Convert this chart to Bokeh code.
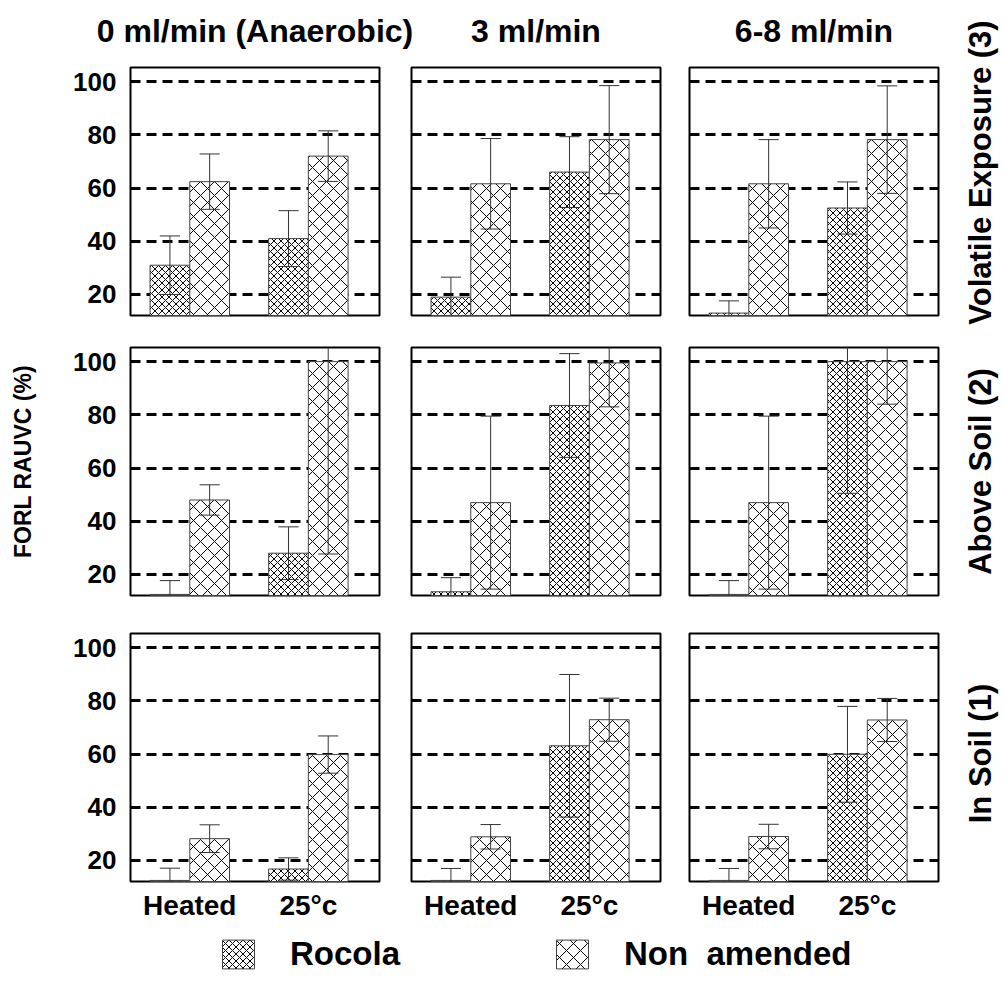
import numpy as np
from bokeh.plotting import figure
from bokeh.models import Range1d, FixedTicker, Legend, LegendItem
from bokeh.layouts import row, column
from bokeh.embed import file_html
from bokeh.resources import INLINE
from bokeh.core.properties import value

FONT = "Liberation Sans"

# ---------------- data ----------------
treatments = ["Heated", "25°c"]
flows = ["0 ml/min (Anaerobic)", "3 ml/min", "6-8 ml/min"]
exposures = ["Volatile Exposure (3)", "Above Soil (2)", "In Soil (1)"]
y_ticks = [20, 40, 60, 80, 100]
y_axis_title = "FORL RAUVC (%)"
series_names = ["Rocola", "Non  amended"]

# each list: one entry per flow, each entry = [Heated, 25°c]
rocola_volatile = [[31.0, 41.0], [19.0, 66.0], [13.0, 52.5]]
rocola_volatile_err = [[11.0, 10.5], [7.5, 13.3], [4.6, 9.8]]
non_volatile = [[62.4, 72.0], [61.6, 78.2], [61.6, 78.2]]
non_volatile_err = [[10.4, 9.5], [17.0, 20.3], [16.6, 20.2]]

rocola_above = [[12.5, 28.0], [13.5, 83.5], [12.5, 100.0]]
rocola_above_err = [[5.2, 9.9], [5.3, 19.5], [5.2, 49.5]]
non_above = [[48.0, 100.0], [47.0, 99.5], [47.0, 100.0]]
non_above_err = [[5.7, 72.3], [32.5, 16.5], [32.5, 16.0]]

rocola_soil = [[12.5, 16.8], [12.5, 63.1], [12.5, 59.9]]
rocola_soil_err = [[4.6, 4.2], [4.5, 26.8], [4.5, 18.0]]
non_soil = [[28.2, 59.8], [28.9, 72.9], [29.0, 72.8]]
non_soil_err = [[5.2, 7.0], [4.6, 8.1], [4.6, 8.1]]

rocola_rows = [rocola_volatile, rocola_above, rocola_soil]
rocola_err_rows = [rocola_volatile_err, rocola_above_err, rocola_soil_err]
non_rows = [non_volatile, non_above, non_soil]
non_err_rows = [non_volatile_err, non_above_err, non_soil_err]

# ---------------- styling / layout ----------------
FRAME_W, FRAME_H = 249, 248
LEFT_W, RIGHT_W = 60, 46
TITLE_H = 55
BORDER_L = [70, 16, 14]
BORDER_R = [16, 15, 17]
BORDER_T = [67 - TITLE_H, 16, 18]
BORDER_B = [16, 20, 44]
BAR_W = 0.335
CAP = 0.085
ROCOLA_STYLE = dict(fill_color="white", hatch_pattern="x", hatch_scale=7,
                    hatch_weight=1, hatch_color="black", line_color="#444", line_width=1)
NON_STYLE = dict(fill_color="white", hatch_pattern="x", hatch_scale=14,
                 hatch_weight=1, hatch_color="black", line_color="#444", line_width=1)


def add_errors(p, xs, vals, errs):
    lo = [v - e for v, e in zip(vals, errs)]
    hi = [v + e for v, e in zip(vals, errs)]
    p.segment(x0=xs, y0=lo, x1=xs, y1=hi, line_color="#333", line_width=1)
    xl = [x - CAP for x in xs]
    xr = [x + CAP for x in xs]
    p.segment(x0=xl, y0=hi, x1=xr, y1=hi, line_color="#333", line_width=1)
    p.segment(x0=xl, y0=lo, x1=xr, y1=lo, line_color="#333", line_width=1)


def make_panel(r, c):
    p = figure(frame_width=FRAME_W, frame_height=FRAME_H,
               x_range=Range1d(0.5, 2.6), y_range=Range1d(12.1, 105.3),
               output_backend="svg", toolbar_location=None,
               min_border_left=BORDER_L[c], min_border_right=BORDER_R[c],
               min_border_top=BORDER_T[r], min_border_bottom=BORDER_B[r])
    p.outline_line_color = "black"
    p.outline_line_width = 2
    p.background_fill_color = "white"
    p.border_fill_color = "white"
    p.xgrid.visible = False
    p.ygrid.ticker = FixedTicker(ticks=y_ticks)
    p.ygrid.grid_line_color = "black"
    p.ygrid.grid_line_width = 3
    p.ygrid.grid_line_dash = "10 6"
    p.yaxis.ticker = FixedTicker(ticks=y_ticks)
    p.xaxis.ticker = FixedTicker(ticks=[1, 2])
    p.xaxis.major_label_overrides = {1: treatments[0], 2: treatments[1]}
    for ax in (p.xaxis, p.yaxis):
        ax.axis_line_color = None
        ax.major_tick_line_color = None
        ax.minor_tick_line_color = None
        ax.major_label_text_font = FONT
        ax.major_label_text_font_style = "bold"
        ax.major_label_text_color = "black"
    p.yaxis.major_label_text_font_size = "26px"
    p.xaxis.major_label_text_font_size = "28px"
    p.yaxis.major_label_standoff = 8
    p.xaxis.major_label_standoff = 2
    if c != 0:
        p.yaxis.visible = False
    if r != 2:
        p.xaxis.visible = False

    groups = [1, 2]
    x_roc = [g - BAR_W / 2 for g in groups]
    x_non = [g + BAR_W / 2 for g in groups]
    roc = rocola_rows[r][c]
    non = non_rows[r][c]
    p.vbar(x=x_roc, top=roc, bottom=0, width=BAR_W, **ROCOLA_STYLE)
    p.vbar(x=x_non, top=non, bottom=0, width=BAR_W, **NON_STYLE)
    add_errors(p, x_roc, roc, rocola_err_rows[r][c])
    add_errors(p, x_non, non, non_err_rows[r][c])
    return p


def blank_fig(w, h):
    f = figure(width=w, height=h, x_range=Range1d(0, w), y_range=Range1d(0, h),
               output_backend="svg", toolbar_location=None, min_border=0,
               x_axis_type=None, y_axis_type=None)
    f.outline_line_color = None
    f.xgrid.visible = False
    f.ygrid.visible = False
    return f


panel_rows = [row(*[make_panel(r, c) for c in range(3)]) for r in range(3)]
GRID_W = sum(BORDER_L) + sum(BORDER_R) + 3 * FRAME_W
GRID_H = sum(BORDER_T) + sum(BORDER_B) + 3 * FRAME_H
FULL_H = TITLE_H + GRID_H

# column titles, centred over each panel frame
title_fig = blank_fig(GRID_W, TITLE_H)
col_centres = []
x0 = 0
for c in range(3):
    col_centres.append(x0 + BORDER_L[c] + FRAME_W / 2)
    x0 += BORDER_L[c] + FRAME_W + BORDER_R[c]
title_fig.text(x=col_centres, y=[TITLE_H - 30] * 3, text=flows,
               text_font=value(FONT), text_font_style="bold", text_font_size="32px",
               text_align="center", text_baseline="middle", text_color="black")

grid = column(title_fig, *panel_rows)

left = blank_fig(LEFT_W, FULL_H)
left.text(x=[22], y=[FULL_H - 461], text=[y_axis_title], angle=np.pi / 2,
          text_font=value(FONT), text_font_style="bold", text_font_size="23px",
          text_align="center", text_baseline="middle", text_color="black")

right = blank_fig(RIGHT_W, FULL_H)
right.text(x=[25, 25, 25], y=[FULL_H - 172, FULL_H - 471, FULL_H - 753], text=exposures,
           angle=np.pi / 2,
           text_font=value(FONT), text_font_style="bold", text_font_size="31px",
           text_align="center", text_baseline="middle", text_color="black")

LEG_W = LEFT_W + GRID_W + RIGHT_W
leg = figure(width=LEG_W, height=50, x_range=Range1d(0, 1), y_range=Range1d(0, 1),
             output_backend="svg", toolbar_location=None, min_border=0,
             x_axis_type=None, y_axis_type=None)
leg.outline_line_color = None
leg.xgrid.visible = False
leg.ygrid.visible = False
# renderers only used for the legend swatches (their bars lie outside the view)
r1 = leg.vbar(x=[10], top=[10], width=0.1, **ROCOLA_STYLE)
r2 = leg.vbar(x=[10], top=[10], width=0.1, **NON_STYLE)
legend = Legend(items=[LegendItem(label=series_names[0], renderers=[r1]),
                       LegendItem(label=series_names[1], renderers=[r2])],
                location=(218, 2), orientation="horizontal",
                glyph_width=40, glyph_height=36, label_standoff=32, spacing=152,
                padding=0, margin=0, border_line_color=None, background_fill_alpha=0,
                label_text_font=FONT, label_text_font_style="bold",
                label_text_font_size="33px", label_text_color="black")
leg.add_layout(legend)

page = column(row(left, grid, right), leg)

open("out.html", "w").write(file_html(page, INLINE))
